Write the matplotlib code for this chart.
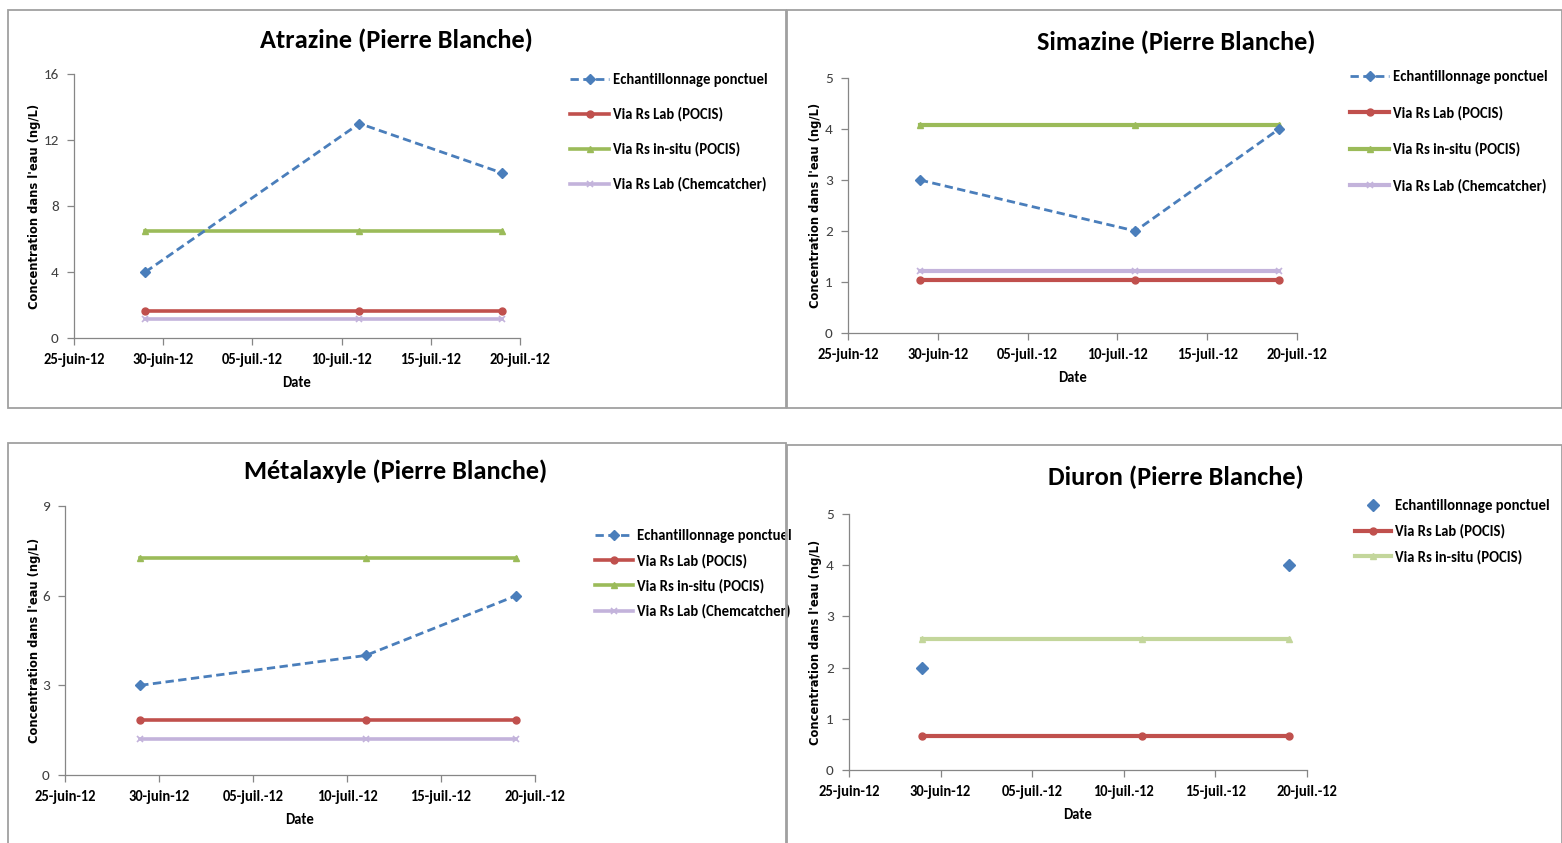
import datetime as dt
import numpy as np
import matplotlib
matplotlib.use("Agg")
import matplotlib.pyplot as plt
import matplotlib.dates as mdates
from matplotlib.patches import Rectangle

# ---------------- data ----------------
dates = [dt.date(2012, 6, 29), dt.date(2012, 7, 11), dt.date(2012, 7, 19)]
tick_dates = [dt.date(2012, 6, 25), dt.date(2012, 6, 30), dt.date(2012, 7, 5),
              dt.date(2012, 7, 10), dt.date(2012, 7, 15), dt.date(2012, 7, 20)]
tick_labels = ['25-juin-12', '30-juin-12', '05-juil.-12', '10-juil.-12', '15-juil.-12', '20-juil.-12']

series_names = ['Echantillonnage ponctuel', 'Via Rs Lab (POCIS)',
                'Via Rs in-situ (POCIS)', 'Via Rs Lab (Chemcatcher)']

atrazine_ponctuel = [4, 13, 10]
atrazine_lab_pocis = [1.65, 1.65, 1.65]
atrazine_insitu_pocis = [6.5, 6.5, 6.5]
atrazine_chemcatcher = [1.15, 1.15, 1.15]

simazine_ponctuel = [3, 2, 4]
simazine_lab_pocis = [1.03, 1.03, 1.03]
simazine_insitu_pocis = [4.08, 4.08, 4.08]
simazine_chemcatcher = [1.21, 1.21, 1.21]

metalaxyle_ponctuel = [3, 4, 6]
metalaxyle_lab_pocis = [1.83, 1.83, 1.83]
metalaxyle_insitu_pocis = [7.25, 7.25, 7.25]
metalaxyle_chemcatcher = [1.22, 1.22, 1.22]

diuron_ponctuel = [2, np.nan, 4]
diuron_lab_pocis = [0.66, 0.66, 0.66]
diuron_insitu_pocis = [2.55, 2.55, 2.55]

titles = ['Atrazine (Pierre Blanche)', 'Simazine (Pierre Blanche)',
          'Métalaxyle (Pierre Blanche)', 'Diuron (Pierre Blanche)']

# ---------------- style ----------------
W, H = 1562, 843
NARROW = ['Carlito', 'PT Sans Narrow', 'DejaVu Sans']
plt.rcParams['font.family'] = NARROW

BLUE = '#4A7EBB'
RED = '#C0504D'
GREEN = '#9BBB59'
GREEN_LIGHT = '#C3D69B'
LILAC = '#C3B3DB'
AXCOL = '#868686'

fig = plt.figure(figsize=(W / 100, H / 100), dpi=100)


def fx(px):
    return px / W


def fy(py):
    return 1 - py / H


def border(x0, y0, x1, y1):
    fig.patches.append(Rectangle((fx(x0), fy(y1)), fx(x1) - fx(x0), fy(y0) - fy(y1),
                                 transform=fig.transFigure, fill=False,
                                 edgecolor='#A0A0A0', lw=1.3))


def make_axes(x0, y0, x1, y1, ylabel_x):
    ax = fig.add_axes([fx(x0), fy(y1), fx(x1) - fx(x0), fy(y0) - fy(y1)])
    for s in ['top', 'right']:
        ax.spines[s].set_visible(False)
    for s in ['left', 'bottom']:
        ax.spines[s].set_color(AXCOL)
        ax.spines[s].set_linewidth(0.9)
    ax.set_xlim(mdates.date2num(tick_dates[0]), mdates.date2num(tick_dates[-1]))
    ax.set_xticks(mdates.date2num(tick_dates))
    ax.set_xticklabels(tick_labels, fontsize=10.5, fontweight='bold')
    ax.tick_params(axis='both', colors=AXCOL, length=5, width=0.9, direction='out')
    ax.tick_params(axis='x', labelcolor='black', pad=6)
    ax.tick_params(axis='y', labelcolor='#404040', labelsize=11, pad=6)
    ax.set_xlabel('Date', fontsize=10.5, fontweight='bold', labelpad=6)
    ax.set_ylabel("Concentration dans l'eau (ng/L)", fontsize=8.3, fontweight='bold',
                  family='DejaVu Sans', va='center')
    ax.yaxis.set_label_coords((ylabel_x - x0) / (x1 - x0), 0.5)
    return ax


def plot_series(ax, pon, lab, insitu, chem, pon_line=True, ins_color=GREEN, lw=2.6):
    x = mdates.date2num(dates)
    if pon_line:
        ax.plot(x, pon, color=BLUE, ls=(0, (3, 1.6)), lw=2.0, marker='D', ms=5,
                label=series_names[0], zorder=5)
    else:
        ax.plot(x, pon, color=BLUE, ls='none', marker='D', ms=6,
                label=series_names[0], zorder=5)
    ax.plot(x, lab, color=RED, lw=lw, marker='o', ms=5, label=series_names[1], zorder=3)
    ax.plot(x, insitu, color=ins_color, lw=lw, marker='^', ms=5, label=series_names[2], zorder=3)
    if chem is not None:
        ax.plot(x, chem, color=LILAC, lw=lw, marker='x', ms=5, mew=1.2,
                label=series_names[3], zorder=2)


def legend(ax, xpx, ypx, spacing_px, fs=10.5, hl=2.7):
    fontpx = fs * 100 / 72
    ls = (spacing_px - fontpx) / fontpx
    ax.legend(loc='upper left', bbox_to_anchor=(fx(xpx), fy(ypx)),
              bbox_transform=fig.transFigure, frameon=False,
              labelspacing=ls, handlelength=hl, handletextpad=0.25,
              borderpad=0, borderaxespad=0, prop={'weight': 'bold', 'size': fs,
                                                  'family': NARROW})


# panel borders
border(8, 10, 786, 408)
border(787, 10, 1562, 408)
border(8, 443, 786, 845)
border(787, 445, 1562, 845)

# ---- Atrazine ----
ax1 = make_axes(74, 74, 520, 338, 35)
plot_series(ax1, atrazine_ponctuel, atrazine_lab_pocis, atrazine_insitu_pocis, atrazine_chemcatcher)
ax1.set_ylim(0, 16)
ax1.set_yticks([0, 4, 8, 12, 16])
fig.text(fx(396), fy(40), titles[0], ha='center', va='center', fontsize=19, fontweight='bold')
legend(ax1, 570, 73, 35)

# ---- Simazine ----
ax2 = make_axes(848, 78, 1297, 333, 815)
plot_series(ax2, simazine_ponctuel, simazine_lab_pocis, simazine_insitu_pocis, simazine_chemcatcher, lw=3.0)
ax2.set_ylim(0, 5)
ax2.set_yticks([0, 1, 2, 3, 4, 5])
fig.text(fx(1176), fy(42), titles[1], ha='center', va='center', fontsize=19, fontweight='bold')
legend(ax2, 1350, 70, 36.5)

# ---- Metalaxyle ----
ax3 = make_axes(65, 506, 535, 775, 35)
plot_series(ax3, metalaxyle_ponctuel, metalaxyle_lab_pocis, metalaxyle_insitu_pocis, metalaxyle_chemcatcher)
ax3.set_ylim(0, 9)
ax3.set_yticks([0, 3, 6, 9])
fig.text(fx(396), fy(471), titles[2], ha='center', va='center', fontsize=19, fontweight='bold')
legend(ax3, 595, 529, 25.3, hl=2.6)

# ---- Diuron ----
ax4 = make_axes(849, 514, 1307, 770, 815)
plot_series(ax4, diuron_ponctuel, diuron_lab_pocis, diuron_insitu_pocis, None, pon_line=False,
            ins_color=GREEN_LIGHT, lw=3.0)
ax4.set_ylim(0, 5)
ax4.set_yticks([0, 1, 2, 3, 4, 5])
fig.text(fx(1176), fy(477), titles[3], ha='center', va='center', fontsize=19, fontweight='bold')
legend(ax4, 1355, 499, 25.7, hl=2.5)

fig.savefig('out.png', dpi=100)
